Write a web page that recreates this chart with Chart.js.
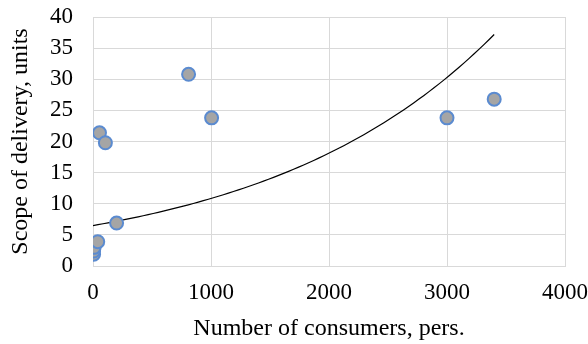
<!DOCTYPE html>
<html>
<head>
<meta charset="utf-8">
<script src="https://cdn.jsdelivr.net/npm/chart.js@4/dist/chart.umd.min.js"></script>
<style>
  html, body { margin: 0; padding: 0; background: #fff; }
  #wrap { width: 588px; height: 344px; }
</style>
</head>
<body>
<div id="wrap"><canvas id="c" width="588" height="344"></canvas></div>
<script>
// Consumers (pers.) and delivery scope (units) per observation
const consumers = [5, 5, 10, 40, 55, 105, 200, 810, 1005, 3000, 3400];
const delivery  = [1.9, 2.4, 3.0, 3.9, 21.4, 19.8, 6.9, 30.8, 23.8, 23.8, 26.8];
const xTicks = [0, 1000, 2000, 3000, 4000];
const yTicks = [0, 5, 10, 15, 20, 25, 30, 35, 40];

// Exponential trendline y = a*e^(b*x), least squares on ln(y)
function expFit(xs, ys) {
  const n = xs.length;
  const ly = ys.map(Math.log);
  const mx = xs.reduce((s, v) => s + v, 0) / n;
  const my = ly.reduce((s, v) => s + v, 0) / n;
  let sxy = 0, sxx = 0;
  for (let i = 0; i < n; i++) {
    sxy += (xs[i] - mx) * (ly[i] - my);
    sxx += (xs[i] - mx) * (xs[i] - mx);
  }
  const b = sxy / sxx;
  const a = Math.exp(my - b * mx);
  return { a, b };
}
const fit = expFit(consumers, delivery);
const xMaxData = Math.max(...consumers);
const trend = [];
for (let i = 0; i <= 80; i++) {
  const x = xMaxData * i / 80;
  trend.push({ x, y: fit.a * Math.exp(fit.b * x) });
}

const points = consumers.map((x, i) => ({ x, y: delivery[i] }));
const serif = "'Liberation Serif', 'Times New Roman', serif";
const grid = '#d9d9d9';
const TICK_FS = 23;
const TITLE_FS = 24;

new Chart(document.getElementById('c'), {
  type: 'scatter',
  data: {
    datasets: [
      {
        label: 'Delivery',
        data: points,
        backgroundColor: '#a5a5a5',
        borderColor: '#5b8bd0',
        borderWidth: 2,
        pointRadius: 6.5,
        pointHoverRadius: 6.5,
        order: 1
      },
      {
        label: 'Trend',
        type: 'line',
        data: trend,
        borderColor: '#000',
        borderWidth: 1.2,
        pointRadius: 0,
        fill: false,
        tension: 0,
        order: 2
      }
    ]
  },
  options: {
    responsive: false,
    animation: false,
    events: [],
    layout: { padding: { top: 17, right: 23, left: 0, bottom: 0 } },
    plugins: { legend: { display: false }, tooltip: { enabled: false } },
    scales: {
      x: {
        type: 'linear',
        min: 0, max: 4000,
        afterBuildTicks: s => { s.ticks = xTicks.map(v => ({ value: v })); },
        afterFit: s => { s.height = 78; s.paddingLeft = 0; s.paddingRight = 0; },
        grid: { color: grid, lineWidth: 1, drawTicks: false },
        border: { color: grid, width: 1 },
        ticks: { color: '#000', font: { family: serif, size: TICK_FS }, padding: 13, maxRotation: 0,
                 callback: v => String(v) },
        title: { display: true, text: 'Number of consumers, pers.', color: '#000',
                 font: { family: serif, size: TITLE_FS }, padding: { top: 0, bottom: 1 } }
      },
      y: {
        type: 'linear',
        min: 0, max: 40,
        afterBuildTicks: s => { s.ticks = yTicks.map(v => ({ value: v })); },
        afterFit: s => { s.width = 93; s.paddingTop = 0; s.paddingBottom = 0; },
        grid: { color: grid, lineWidth: 1, drawTicks: false },
        border: { color: grid, width: 1 },
        ticks: { color: '#000', font: { family: serif, size: TICK_FS }, padding: 20,
                 callback: v => String(v) },
        title: { display: true, text: 'Scope of delivery, units', color: '#000',
                 font: { family: serif, size: TITLE_FS }, padding: { top: 6, bottom: 0 } }
      }
    }
  }
});
</script>
</body>
</html>
